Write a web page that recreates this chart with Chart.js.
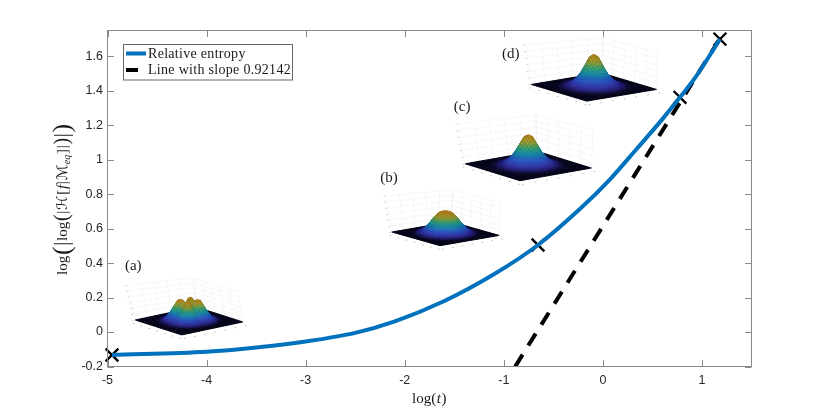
<!DOCTYPE html>
<html><head><meta charset="utf-8">
<style>html,body{margin:0;padding:0;background:#fff}canvas{display:block}</style>
<script src="https://cdn.jsdelivr.net/npm/chart.js@4"></script>
</head><body><canvas id="c" width="830" height="412"></canvas>
<script>
const entropyX=[-4.955,-4.0,-3.5,-3.0,-2.5,-2.1,-1.6,-1.1,-0.655,-0.23,0.07,0.34,0.607,0.778,0.93,1.114,1.182];
const entropyY=[-0.133,-0.115,-0.09,-0.055,-0.005,0.062,0.18,0.335,0.505,0.715,0.885,1.062,1.24,1.362,1.475,1.638,1.70];
const slopeX=[-0.885,1.185];
const slopeY=[-0.2,1.707];
const markerX=[-4.955,-0.655,0.778,1.182];
const markerY=[-0.133,0.505,1.362,1.70];
const seriesNames=['Relative entropy','Line with slope 0.92142'];
const xTicks=[-5,-4,-3,-2,-1,0,1];
const yTicks=[-0.2,0,0.2,0.4,0.6,0.8,1,1.2,1.4,1.6];
const panelNames=['(a)','(b)','(c)','(d)'];
const panelX=[-4.74,-2.16,-1.42,-0.93];
const panelY=[0.38,0.893,1.305,1.615];
// radial surface profiles of the four inset snapshots (r = 0 .. 1 by 0.1)
const profileA=[0.5,0.8,1,0.9,0.62,0.36,0.17,0.06,0.01,0,0];
const profileB=[0.95,1,0.92,0.74,0.52,0.32,0.17,0.07,0.02,0,0];
const profileC=[1,0.93,0.68,0.44,0.27,0.15,0.07,0.03,0.01,0,0];
const profileD=[1,0.92,0.66,0.42,0.25,0.14,0.07,0.03,0.01,0,0];
const insetX=[-4.251,-1.644,-0.837,-0.163];
const insetY=[-0.017,0.501,0.878,1.34];

const insetStyle=[
 {p:profileA,lobe:0.3,H:21,L:[-46.7,-15],R:[61.3,-13],TL:[-53.7,-50],TT:[11.3,-57],TR:[56.3,-43]},
 {p:profileB,lobe:0,H:22,L:[-48.3,-13.7],R:[59.3,-10.3],TL:[-54,-50],TT:[13,-56],TR:[60.7,-43]},
 {p:profileC,lobe:0,H:31,L:[-55,-17],R:[71.7,-12.7],TL:[-62,-57],TT:[16,-66],TR:[72.7,-51]},
 {p:profileD,lobe:0,H:32.5,L:[-55.7,-16.7],R:[70,-11.7],TL:[-60.7,-56.7],TT:[16.6,-63.4],TR:[70.6,-48.4]}
];
const ramp=[[0,[8,8,32]],[0.015,[16,14,60]],[0.05,[36,30,125]],[0.12,[50,50,175]],[0.27,[40,90,210]],[0.45,[25,150,180]],[0.6,[50,170,130]],[0.78,[160,165,50]],[1,[205,140,30]]];
function rampRGB(z){
  for(let i=1;i<ramp.length;i++){ if(z<=ramp[i][0]){
    const a=ramp[i-1],b=ramp[i],t=(z-a[0])/(b[0]-a[0]);
    return a[1].map((c,k)=>Math.round(c+(b[1][k]-c)*t));
  }}
  return [205,140,30];
}
function surfaceZ(s,u,v){
  const r=Math.hypot(u,v); const f=Math.min(r*10,10),i=Math.min(Math.floor(f),9),t=f-i;
  let z=s.p[i]*(1-t)+s.p[i+1]*t;
  if(s.lobe){const th=Math.atan2(v,u); z*=1-s.lobe*Math.cos(4*th);z/=1+s.lobe*0.6;}
  return Math.min(z,1);
}
function drawInset(ctx,sx,sy,s){
  const bx=sx,by=sy;
  const P=o=>[bx+o[0],by+o[1]];
  const L=P(s.L),B=[bx,by],R=P(s.R),T=[L[0]+R[0]-B[0],L[1]+R[1]-B[1]];
  const TL=P(s.TL),TT=P(s.TT),TR=P(s.TR);
  const mix=(a,b,t)=>[a[0]+(b[0]-a[0])*t,a[1]+(b[1]-a[1])*t];
  ctx.save();
  ctx.strokeStyle='rgba(225,225,225,0.55)';ctx.lineWidth=0.5;
  const line=(a,b)=>{ctx.beginPath();ctx.moveTo(a[0],a[1]);ctx.lineTo(b[0],b[1]);ctx.stroke();};
  for(let i=0;i<=5;i++){const t=i/5;
    line(mix(L,T,t),mix(TL,TT,t)); line(mix(T,R,t),mix(TT,TR,t));}
  for(let i=1;i<=6;i++){const t=i/6;
    line(mix(L,TL,t),mix(T,TT,t)); line(mix(T,TT,t),mix(R,TR,t));}
  ctx.fillStyle='rgba(140,140,140,0.6)';
  for(let i=0;i<=6;i++){const t=i/6;
    const a=mix(L,B,t),b=mix(B,R,t);
    ctx.fillRect(a[0]-2,a[1]+3,1.5,1);ctx.fillRect(b[0]+2,b[1]+3,1.5,1);
    const c=mix(L,TL,t);ctx.fillRect(c[0]-2.5,c[1],1.5,0.8);
  }
  const N=44,O=mix(L,R,0.5);
  const e1=[(B[0]-L[0])/2,(B[1]-L[1])/2],e2=[(R[0]-B[0])/2,(R[1]-B[1])/2];
  const pt=(u,v,z)=>[O[0]+u*e1[0]+v*e2[0],O[1]+u*e1[1]+v*e2[1]-z*s.H];
  ctx.lineWidth=0.6;ctx.lineJoin='round';
  for(let i=0;i<N;i++){for(let j=N-1;j>=0;j--){
    const u0=-1+2*i/N,u1=-1+2*(i+1)/N,v1=-1+2*(j+1)/N,v0=-1+2*j/N;
    const z=[surfaceZ(s,u0,v0),surfaceZ(s,u1,v0),surfaceZ(s,u1,v1),surfaceZ(s,u0,v1)];
    const a=pt(u0,v0,z[0]),b=pt(u1,v0,z[1]),c=pt(u1,v1,z[2]),d=pt(u0,v1,z[3]);
    const rgb=rampRGB((z[0]+z[1]+z[2]+z[3])/4);
    ctx.beginPath();ctx.moveTo(a[0],a[1]);ctx.lineTo(b[0],b[1]);ctx.lineTo(c[0],c[1]);ctx.lineTo(d[0],d[1]);ctx.closePath();
    ctx.fillStyle='rgb('+rgb.join(',')+')';ctx.fill();
    ctx.strokeStyle='rgb('+rgb.map(q=>Math.round(q*0.82)).join(',')+')';ctx.stroke();
  }}
  ctx.restore();
}
const SERIF='"Liberation Serif","DejaVu Serif",serif';
function drawRuns(ctx,runs,x,y,target){
  let w=0;runs.forEach(r=>{ctx.font=r.f;w+=ctx.measureText(r.t).width;});
  const extra=target?(target-w)/(runs.length):0;
  let cx=x;
  runs.forEach(r=>{ctx.font=r.f;ctx.fillText(r.t,cx,y+(r.dy||0));cx+=ctx.measureText(r.t).width+extra;});
}
const decor={
  id:'decor',
  beforeDatasetsDraw(chart){
    const {ctx,scales:{x,y}}=chart;
    insetStyle.forEach((s,i)=>drawInset(ctx,x.getPixelForValue(insetX[i]),y.getPixelForValue(insetY[i]),s));
  },
  afterDatasetsDraw(chart){
    const {ctx,chartArea:a,scales:{x,y}}=chart;
    ctx.save();
    ctx.strokeStyle='#8a8a8a';ctx.lineWidth=1;
    ctx.strokeRect(a.left,a.top,a.right-a.left,a.bottom-a.top);
    ctx.beginPath();
    xTicks.forEach(v=>{const p=Math.round(x.getPixelForValue(v))+0.5;ctx.moveTo(p,a.bottom);ctx.lineTo(p,a.bottom-6.5);ctx.moveTo(p,a.top);ctx.lineTo(p,a.top+6.5);});
    yTicks.forEach(v=>{const p=Math.round(y.getPixelForValue(v))+0.5;ctx.moveTo(a.left,p);ctx.lineTo(a.left+6.5,p);ctx.moveTo(a.right,p);ctx.lineTo(a.right-6.5,p);});
    ctx.stroke();
    ctx.fillStyle='#fff';ctx.fillRect(123.5,44.5,169,35.5);
    ctx.strokeStyle='#666';ctx.lineWidth=1;ctx.strokeRect(123.5,44.5,169,35.5);
    ctx.lineWidth=4;ctx.strokeStyle='#0072BD';ctx.beginPath();ctx.moveTo(126,53.5);ctx.lineTo(146,53.5);ctx.stroke();
    ctx.strokeStyle='#000';ctx.beginPath();ctx.moveTo(126,70);ctx.lineTo(138,70);ctx.stroke();
    ctx.fillStyle='#1a1a1a';ctx.textAlign='left';ctx.textBaseline='alphabetic';
    ctx.font='14px '+SERIF;
    ctx.letterSpacing='0.3px';
    ctx.fillText(seriesNames[0],148,57.5);
    ctx.fillText(seriesNames[1],148,74);
    ctx.letterSpacing='0px';
    ctx.font='15px '+SERIF;ctx.textAlign='center';ctx.textBaseline='middle';
    panelNames.forEach((t,i)=>ctx.fillText(t,x.getPixelForValue(panelX[i]),y.getPixelForValue(panelY[i])));
    ctx.textAlign='left';ctx.textBaseline='alphabetic';
    const f='15px '+SERIF,fi='italic 15px '+SERIF;
    drawRuns(ctx,[{t:'log(',f},{t:'t',f:fi},{t:')',f}],412,403,35);
    ctx.translate(67,275);ctx.rotate(-Math.PI/2);
    const g='15px '+SERIF,gi='italic 15px '+SERIF,big='26px '+SERIF,mid='20px '+SERIF,sc='14.5px "DejaVu Sans",'+SERIF;
    drawRuns(ctx,[{t:'log',f:g},{t:'(',f:big,dy:3},{t:'|',f:mid,dy:1},{t:'log',f:g},{t:'(',f:mid,dy:1},{t:'|',f:g},{t:'ℋ',f:sc},{t:'[',f:g},{t:'f',f:gi},{t:'|',f:g},{t:'ℳ',f:sc},{t:'eq',f:'italic 10px '+SERIF,dy:3},{t:']',f:g},{t:'|',f:g},{t:')',f:mid,dy:1},{t:'|',f:mid,dy:1},{t:')',f:big,dy:3}],0,0,152);
    ctx.restore();
  }
};
Chart.defaults.font.family='"Liberation Sans",Arial,sans-serif';
new Chart(document.getElementById('c'),{
  type:'line',
  data:{datasets:[
    {label:seriesNames[0],data:entropyX.map((v,i)=>({x:v,y:entropyY[i]})),borderColor:'#0072BD',borderWidth:4,pointRadius:0,cubicInterpolationMode:'monotone',fill:false},
    {label:seriesNames[1],data:slopeX.map((v,i)=>({x:v,y:slopeY[i]})),borderColor:'#000',borderWidth:4,borderDash:[14,10.7],pointRadius:0,fill:false},
    {label:'Snapshots',data:markerX.map((v,i)=>({x:v,y:markerY[i]})),showLine:false,pointStyle:'crossRot',pointRadius:9,pointBorderWidth:2.4,pointBorderColor:'#000',pointBackgroundColor:'#000',clip:false}
  ]},
  options:{
    responsive:false,animation:false,devicePixelRatio:1,
    layout:{padding:{left:0,right:78.5,top:30.5,bottom:0}},
    plugins:{legend:{display:false},tooltip:{enabled:false}},
    scales:{
      x:{type:'linear',min:-5,max:1.5,
        afterFit(s){s.height=45.5;},
        afterBuildTicks(s){s.ticks=xTicks.map(v=>({value:v}));},
        grid:{display:false,drawTicks:false},border:{display:false},
        ticks:{color:'#262626',font:{size:12.5},padding:7,maxRotation:0,autoSkip:false,callback:v=>String(v)}},
      y:{type:'linear',min:-0.2,max:1.75,
        afterFit(s){s.width=107.5;},
        afterBuildTicks(s){s.ticks=yTicks.map(v=>({value:v}));},
        grid:{display:false,drawTicks:false},border:{display:false},
        ticks:{color:'#262626',font:{size:12.5},padding:4.5,autoSkip:false,callback:v=>String(Math.round(v*10)/10)}}
    }
  },
  plugins:[decor]
});
</script></body></html>
